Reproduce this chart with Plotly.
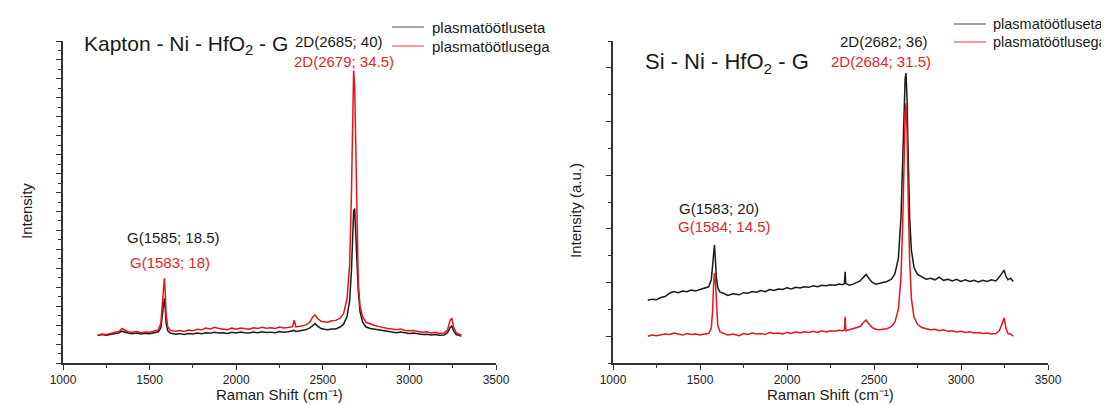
import plotly.graph_objects as go

# ---------------- data ----------------
# Left panel: Kapton - Ni - HfO2 - G
left_x = [1200,1225,1250,1275,1300,1325,1340,1360,1375,1400,1425,1450,1475,1500,1525,1550,
          1565,1575,1580,1585,1590,1595,1605,1620,1650,1675,1700,1725,1750,1775,1800,1825,
          1850,1875,1900,1925,1950,1975,2000,2025,2050,2075,2100,2125,2150,2175,2200,2225,
          2250,2275,2300,2325,2335,2345,2375,2400,2425,2440,2455,2470,2490,2510,2530,2550,
          2575,2600,2620,2640,2655,2665,2672,2678,2684,2690,2697,2705,2715,2730,2750,2775,
          2800,2825,2850,2875,2900,2925,2950,2975,3000,3025,3050,3075,3100,3125,3150,3175,
          3200,3220,3235,3245,3255,3270,3285,3300]
left_black = [1.45,1.50,1.47,1.52,1.55,1.60,1.68,1.62,1.58,1.55,1.58,1.53,1.57,1.55,1.60,1.65,
              1.85,2.60,3.25,3.42,2.90,2.10,1.70,1.58,1.52,1.55,1.50,1.56,1.53,1.58,1.55,1.60,
              1.57,1.62,1.58,1.60,1.56,1.62,1.58,1.63,1.60,1.58,1.63,1.60,1.65,1.61,1.63,1.60,
              1.66,1.62,1.65,1.68,1.72,1.66,1.70,1.75,1.85,1.98,2.08,1.95,1.82,1.78,1.76,1.79,
              1.80,1.90,2.05,2.45,3.30,4.80,6.80,8.00,8.16,7.20,5.40,3.80,2.70,2.15,1.90,1.82,
              1.78,1.72,1.70,1.65,1.62,1.60,1.63,1.58,1.56,1.58,1.54,1.50,1.52,1.48,1.50,1.46,
              1.48,1.60,1.88,1.95,1.70,1.50,1.46,1.42]
left_red = [1.47,1.53,1.50,1.56,1.60,1.68,1.82,1.72,1.65,1.62,1.66,1.60,1.64,1.62,1.68,1.75,
            2.10,3.50,4.30,4.47,3.80,2.60,1.90,1.72,1.68,1.72,1.66,1.74,1.70,1.78,1.75,1.84,
            1.80,1.88,1.82,1.80,1.76,1.84,1.78,1.85,1.80,1.78,1.86,1.82,1.88,1.83,1.86,1.82,
            1.90,1.85,1.88,1.92,2.26,1.90,1.95,2.00,2.15,2.40,2.54,2.35,2.20,2.18,2.15,2.23,
            2.25,2.37,2.60,3.40,5.20,8.80,13.00,15.44,14.60,11.00,6.80,4.20,3.00,2.45,2.15,2.05,
            1.98,1.92,1.86,1.82,1.80,1.76,1.80,1.72,1.70,1.72,1.66,1.62,1.65,1.58,1.62,1.56,
            1.58,1.75,2.25,2.37,1.90,1.60,1.52,1.47]

# Right panel: Si - Ni - HfO2 - G
right_x = [1200,1225,1250,1275,1300,1325,1350,1375,1400,1425,1450,1475,1500,1525,1550,
           1565,1572,1578,1583,1588,1594,1602,1615,1635,1660,1690,1725,1750,1775,1800,1825,
           1850,1875,1900,1925,1950,1975,2000,2025,2050,2075,2100,2125,2150,2175,2200,2225,
           2250,2275,2300,2320,2330,2334,2338,2360,2380,2400,2420,2440,2455,2470,2490,2510,
           2530,2550,2575,2600,2620,2640,2655,2665,2673,2679,2684,2690,2697,2705,2715,2730,
           2750,2775,2800,2825,2850,2875,2900,2925,2950,2975,3000,3025,3050,3075,3100,3125,
           3150,3175,3200,3220,3235,3248,3258,3270,3285,3300]
right_black = [1.17,1.19,1.18,1.22,1.24,1.30,1.33,1.31,1.34,1.33,1.36,1.34,1.37,1.39,1.42,
               1.55,1.80,2.10,2.20,1.95,1.60,1.40,1.32,1.30,1.26,1.29,1.27,1.31,1.30,1.33,1.32,
               1.35,1.33,1.37,1.35,1.38,1.37,1.40,1.38,1.41,1.40,1.42,1.41,1.44,1.42,1.45,1.44,
               1.46,1.45,1.47,1.46,1.48,1.70,1.48,1.45,1.47,1.50,1.53,1.60,1.65,1.58,1.50,1.47,
               1.48,1.50,1.52,1.56,1.66,1.95,2.70,3.70,4.80,5.30,5.40,4.90,3.80,2.70,2.10,1.78,
               1.65,1.60,1.56,1.58,1.55,1.60,1.54,1.56,1.53,1.56,1.52,1.55,1.52,1.54,1.51,1.54,
               1.52,1.55,1.53,1.60,1.68,1.73,1.62,1.55,1.58,1.52]
right_red = [0.50,0.52,0.51,0.53,0.54,0.53,0.56,0.54,0.52,0.55,0.53,0.54,0.52,0.54,0.55,
             0.65,0.95,1.45,1.68,1.55,1.10,0.70,0.58,0.55,0.52,0.54,0.51,0.55,0.53,0.56,0.54,
             0.55,0.53,0.57,0.55,0.56,0.54,0.57,0.55,0.58,0.56,0.58,0.57,0.59,0.57,0.60,0.58,
             0.60,0.59,0.61,0.60,0.62,0.86,0.60,0.62,0.63,0.65,0.68,0.76,0.80,0.73,0.66,0.63,
             0.62,0.63,0.64,0.68,0.76,1.00,1.60,2.60,3.90,4.60,4.84,4.30,3.00,1.90,1.20,0.85,
             0.72,0.66,0.64,0.62,0.63,0.60,0.62,0.59,0.60,0.58,0.59,0.57,0.58,0.56,0.57,0.55,
             0.56,0.54,0.55,0.60,0.72,0.84,0.65,0.55,0.54,0.50]

for a, b in [(left_x, left_black), (left_x, left_red), (right_x, right_black), (right_x, right_red)]:
    assert len(a) == len(b), (len(a), len(b))

series_names = ["plasmatöötluseta", "plasmatöötlusega"]
x_ticks = [1000, 1500, 2000, 2500, 3000, 3500]
x_title = "Raman Shift (cm\u207b\u00b9)"
left_ytitle = "Intensity"
right_ytitle = "Intensity (a.u.)"
left_title = "Kapton - Ni - HfO<sub>2</sub> - G"
right_title = "Si - Ni - HfO<sub>2</sub> - G"
left_labels = [("2D(2685; 40)", "black"), ("2D(2679; 34.5)", "red"),
               ("G(1585; 18.5)", "black"), ("G(1583; 18)", "red")]
right_labels = [("2D(2682; 36)", "black"), ("2D(2684; 31.5)", "red"),
                ("G(1583; 20)", "black"), ("G(1584; 14.5)", "red")]

# ---------------- style ----------------
W, H = 1109, 405
BLACK = "#1a1a1a"
RED = "#e8141c"
TXT_RED = "#e3262c"
TXT = "#1a1a1a"
LEG_COLORS = ["#6a6a6a", "#f05a5e"]
FONT = "Arial, Liberation Sans, sans-serif"

def px(x):
    return x / W

def py(y):
    return 1 - y / H

fig = go.Figure()
for xs, ys, col, xa, ya, nm in [(left_x, left_black, BLACK, "x", "y", series_names[0]),
                                (left_x, left_red, RED, "x", "y", series_names[1]),
                                (right_x, right_black, BLACK, "x2", "y2", series_names[0]),
                                (right_x, right_red, RED, "x2", "y2", series_names[1])]:
    fig.add_trace(go.Scatter(x=xs, y=ys, mode="lines", name=nm, showlegend=False,
                             line=dict(color=col, width=1.5), xaxis=xa, yaxis=ya))

ydom = [py(355), py(33)]
xcommon = dict(range=[1000, 3500], tickvals=x_ticks, showline=True, linecolor="#333", linewidth=1.5,
               ticks="outside", ticklen=5, tickwidth=1.2, tickcolor="#333", automargin=False,
               minor=dict(dtick=250, tick0=1000, ticks="outside", ticklen=3, tickcolor="#333"),
               showgrid=False, zeroline=False, tickfont=dict(size=12, color="#222", family=FONT))
ycommon = dict(showline=True, linecolor="#333", linewidth=1.5, ticks="outside", ticklen=5,
               tickwidth=1.2, tickcolor="#333", showticklabels=False, showgrid=False, zeroline=False,
               domain=ydom, automargin=False)

fig.update_layout(
    width=W, height=H, margin=dict(l=0, r=0, t=0, b=0, autoexpand=False),
    paper_bgcolor="white", plot_bgcolor="white",
    font=dict(family=FONT, color="#222"),
    showlegend=False,
    xaxis=dict(domain=[px(55), px(488)], anchor="y", **xcommon),
    xaxis2=dict(domain=[px(605), px(1040)], anchor="y2", **xcommon),
    yaxis=dict(range=[0, 17], tick0=0, dtick=1, anchor="x",
               minor=dict(dtick=0.5, tick0=0, ticks="outside", ticklen=3, tickcolor="#333"),
               **ycommon),
    yaxis2=dict(range=[0, 6], tick0=0.5, dtick=1, anchor="x2",
                minor=dict(dtick=0.5, tick0=0, ticks="outside", ticklen=3, tickcolor="#333"),
                **ycommon),
)

ann = []
ann.append(dict(text=left_title, x=px(74), y=py(37), xanchor="left", yanchor="middle",
                font=dict(size=21, color=TXT, family=FONT)))
ann.append(dict(text=right_title, x=px(635), y=py(55), xanchor="left", yanchor="middle",
                font=dict(size=22, color=TXT, family=FONT)))
left_pos = [(331, 33), (336, 53), (165, 229), (162, 254)]
right_pos = [(876, 34), (873, 53), (711, 201), (716, 218)]
for (t, c), (x, y) in zip(left_labels + right_labels, left_pos + right_pos):
    ann.append(dict(text=t, x=px(x), y=py(y), xanchor="center", yanchor="middle",
                    font=dict(size=15, color=(TXT if c == "black" else TXT_RED), family=FONT)))
# axis titles
for cx in (271.5, 822.5):
    ann.append(dict(text=x_title, x=px(cx), y=py(386), xanchor="center", yanchor="middle",
                    font=dict(size=15, color=TXT, family=FONT)))
ann.append(dict(text=left_ytitle, x=px(18), y=py(203), xanchor="center", yanchor="middle",
                textangle=-90, font=dict(size=15, color=TXT, family=FONT)))
ann.append(dict(text=right_ytitle, x=px(567), y=py(203), xanchor="center", yanchor="middle",
                textangle=-90, font=dict(size=15, color=TXT, family=FONT)))

# legends (one per panel): line sample + label
shapes = []
legend_specs = [((384, 416, 422, 15), (19, 38)), ((946, 978, 983, 14.5), (16, 34))]
for (x0, x1, xt, fs), rows in legend_specs:
    for name, col, yrow in zip(series_names, LEG_COLORS, rows):
        shapes.append(dict(type="line", xref="paper", yref="paper", x0=px(x0), x1=px(x1),
                           y0=py(yrow), y1=py(yrow), line=dict(color=col, width=1.2)))
        ann.append(dict(text=name, x=px(xt), y=py(yrow), xanchor="left", yanchor="middle",
                        font=dict(size=fs, color=TXT, family=FONT)))

for a in ann:
    a.update(xref="paper", yref="paper", showarrow=False)
fig.update_layout(annotations=ann, shapes=shapes)

fig.write_html("out.html")
